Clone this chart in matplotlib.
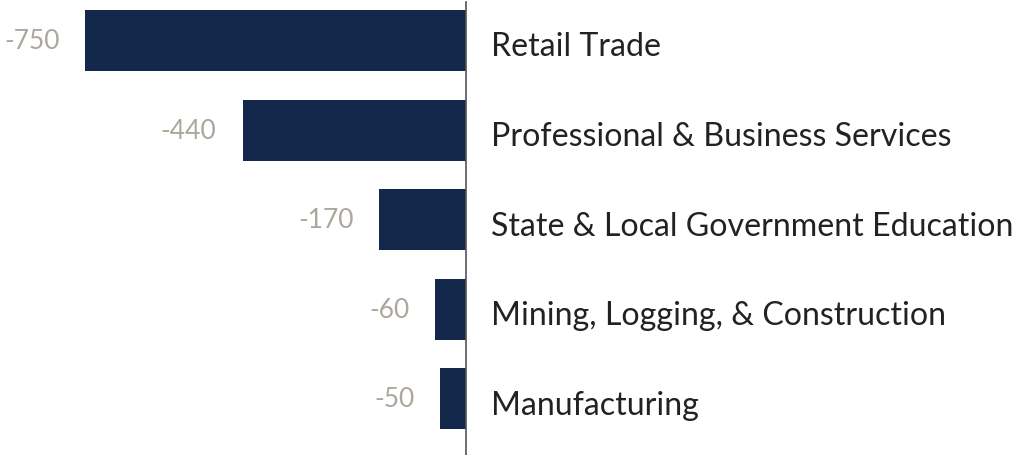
import matplotlib
matplotlib.use('Agg')
import matplotlib.pyplot as plt

categories = ['Retail Trade', 'Professional & Business Services',
              'State & Local Government Education',
              'Mining, Logging, & Construction', 'Manufacturing']
values = [-750, -440, -170, -60, -50]

bar_color = '#13284a'
value_color = '#aca79c'
text_color = '#222222'

plt.rcParams['font.family'] = ['Lato', 'DejaVu Sans']

fig = plt.figure(figsize=(10.21, 4.56), dpi=100)
ax = fig.add_axes([0, 0, 1, 1])

pos = range(len(categories))
ax.barh(pos, values, height=0.68, color=bar_color)

ax.set_xlim(-918.7, 1096)
ax.set_ylim(4.626, -0.463)
ax.axvline(0, ymax=1 - 3 / 456, color='#555555', lw=1.2)

for i, (cat, v) in enumerate(zip(categories, values)):
    ax.annotate(str(v), (v, i), xytext=(-26, 0), textcoords='offset pixels',
                ha='right', va='center', fontsize=19, color=value_color)
    ax.annotate(cat, (0, i), xytext=(25, -6), textcoords='offset pixels',
                ha='left', va='center', fontsize=23.1, color=text_color)

ax.axis('off')
fig.savefig('out.png', dpi=100)
